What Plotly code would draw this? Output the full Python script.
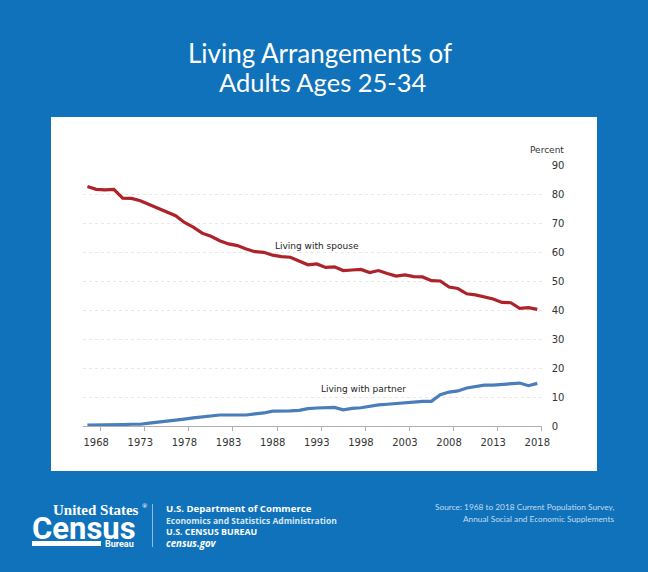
import plotly.graph_objects as go

years = list(range(1967, 2019))
spouse = [82.6,81.6,81.4,81.6,78.6,78.5,77.7,76.4,75.3,73.7,72.5,70.2,68.6,66.5,65.4,63.9,62.8,62.2,61.0,60.1,59.9,58.9,58.4,58.2,
          56.8,55.6,55.9,54.7,54.9,53.6,53.8,54.0,52.9,53.6,52.6,51.7,52.1,51.5,51.4,50.1,50.0,47.9,47.4,45.6,45.2,44.5,43.8,42.6,42.5,40.6,40.8,40.2]
partner = [0.3,0.3,0.3,0.4,0.5,0.6,0.6,1.0,1.3,1.8,1.9,2.4,2.8,3.1,3.4,3.8,3.8,3.9,3.8,4.2,4.5,5.1,5.1,5.2,
           5.4,6.0,6.2,6.3,6.4,5.6,6.1,6.3,6.8,7.3,7.5,7.8,7.9,8.3,8.5,8.5,10.8,11.7,12.1,13.1,13.6,14.1,14.1,14.4,14.5,14.8,13.9,14.7]
tick_years = [1968,1973,1978,1983,1988,1993,1998,2003,2008,2013,2018]
y_ticks = [0,10,20,30,40,50,60,70,80,90]

W, H = 648, 572
BG = "#0F72BA"
TICK = "DejaVu Sans"
SANS = "Open Sans"
fig = go.Figure()
fig.add_trace(go.Scatter(x=years, y=spouse, mode="lines", line=dict(color="#AE2229", width=3.2), showlegend=False, hoverinfo="skip"))
fig.add_trace(go.Scatter(x=years, y=partner, mode="lines", line=dict(color="#4A7EBB", width=3.2), showlegend=False, hoverinfo="skip"))

def px(x): return x / W
def py(y): return 1 - y / H
def label(x, y, text, size, color="white", family=SANS, anchor="left", weight=None):
    fig.add_annotation(xref="paper", yref="paper", x=px(x), y=py(y), text=text, showarrow=False,
                       xanchor=anchor, yanchor="middle", align=anchor, borderpad=0,
                       font=dict(size=size, color=color, family=family, weight=weight))

fig.update_layout(
    width=W, height=H, autosize=False, margin=dict(l=0, r=0, t=0, b=0, pad=0),
    paper_bgcolor=BG, plot_bgcolor="rgba(0,0,0,0)",
    shapes=[
        dict(type="rect", xref="paper", yref="paper", x0=px(51), x1=px(597), y0=py(471), y1=py(117),
             fillcolor="white", line=dict(width=0), layer="below"),
        dict(type="rect", xref="paper", yref="paper", x0=px(32), x1=px(101), y0=py(546), y1=py(541),
             fillcolor="white", line=dict(width=0)),
        dict(type="line", xref="paper", yref="paper", x0=px(152.5), x1=px(152.5), y0=py(547), y1=py(504),
             line=dict(color="#8FBCE0", width=1)),
    ],
    xaxis=dict(domain=[px(83), px(541.7)], range=[1966.5, 2018.5], tickmode="array", tickvals=tick_years, automargin=False,
               ticktext=[str(t) for t in tick_years], ticks="outside", ticklen=7, tickcolor="rgba(0,0,0,0)",
               tickfont=dict(family=TICK, size=10, color="#333333"), showgrid=False, zeroline=False,
               showline=False,
               minor=dict(tickmode="array", tickvals=[t + 0.5 for t in tick_years], ticks="outside", ticklen=4,
                          tickcolor="#B0B0B0", tickwidth=1, showgrid=False)),
    yaxis=dict(domain=[py(426), py(165)], range=[0, 90], side="right", tickmode="array", tickvals=y_ticks, automargin=False,
               ticks="outside", ticklen=7, tickcolor="rgba(0,0,0,0)",
               tickfont=dict(family=TICK, size=10, color="#333333"), showgrid=True, gridcolor="#E8E8E8",
               griddash="3px,3px", gridwidth=1, zeroline=True, zerolinecolor="#B0B0B0", zerolinewidth=1, showline=False),
    hovermode=False,
)

fig.add_annotation(x=1993.0, y=62, text="Living with spouse", showarrow=False, font=dict(family=TICK, size=9, color="#222222"))
fig.add_annotation(x=1998.3, y=12.8, text="Living with partner", showarrow=False, font=dict(family=TICK, size=9, color="#222222"))
label(547, 150, "Percent", 9, "#333333", TICK, "center")

label(320, 53, "Living Arrangements of", 26, family="Lato", anchor="center")
label(323, 82, "Adults Ages 25-34", 25.5, family="Lato", anchor="center")

label(52, 510, "United States", 15, family="Liberation Serif", weight="bold")
label(141, 506, "®", 7, family="Liberation Serif", weight="bold")
label(31, 528, "Census", 31, family="Roboto", weight="bold")
label(104, 543.5, "Bureau", 9, family="Roboto", weight="bold")
label(164.5, 508, "U.S. Department of Commerce", 9.6, family=SANS, weight="bold")
label(164.5, 520, "Economics and Statistics Administration", 8.5, "#D5E6F4", SANS, weight="bold")
label(164.5, 532, "U.S. CENSUS BUREAU", 8.8, family=SANS, weight="bold")
label(164.5, 543, "<i>census.gov</i>", 9.7, family=SANS, weight="bold")
label(615, 507, "Source: 1968 to 2018 Current Population Survey,", 8.3, "#C6DCEF", "Lato", anchor="right")
label(615, 519, "Annual Social and Economic Supplements", 8.3, "#C6DCEF", "Lato", anchor="right")

fig.write_html("out.html", config=dict(displayModeBar=False), post_script="document.body.style.margin='0';")
